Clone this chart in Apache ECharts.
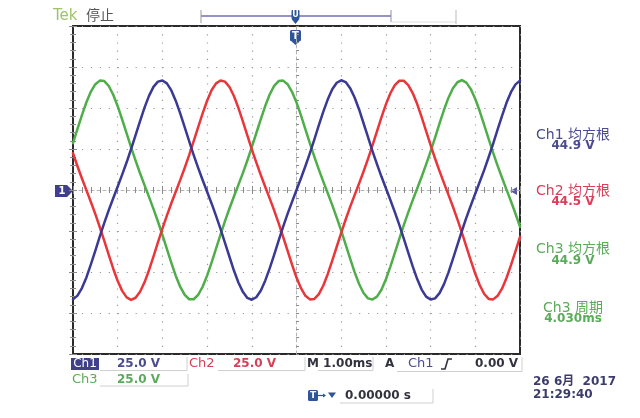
<!DOCTYPE html>
<html><head><meta charset="utf-8">
<script src="https://cdn.jsdelivr.net/npm/echarts@6/dist/echarts.min.js"></script>
<style>html,body{margin:0;padding:0;background:#fff}#c{width:640px;height:418px}</style>
</head><body><div id="c"></div>
<script>
// time axis (ms) – 10 divisions of 1.00 ms
const timeMs = [0,0.1,0.2,0.3,0.4,0.5,0.6,0.7,0.8,0.9,1,1.1,1.2,1.3,1.4,1.5,1.6,1.7,1.8,1.9,2,2.1,2.2,2.3,2.4,2.5,2.6,2.7,2.8,2.9,3,3.1,3.2,3.3,3.4,3.5,3.6,3.7,3.8,3.9,4,4.1,4.2,4.3,4.4,4.5,4.6,4.7,4.8,4.9,5,5.1,5.2,5.3,5.4,5.5,5.6,5.7,5.8,5.9,6,6.1,6.2,6.3,6.4,6.5,6.6,6.7,6.8,6.9,7,7.1,7.2,7.3,7.4,7.5,7.6,7.7,7.8,7.9,8,8.1,8.2,8.3,8.4,8.5,8.6,8.7,8.8,8.9,9,9.1,9.2,9.3,9.4,9.5,9.6,9.7,9.8,9.9,10];
// Ch1 (blue) volts
const ch1Volts = [-66.7,-64.4,-59.8,-53.3,-45.4,-36.9,-28.3,-20.1,-12.3,-5.0,2.1,9.4,16.9,25.0,33.5,42.0,50.2,57.4,62.9,66.1,66.8,65.0,60.7,54.3,46.6,38.2,29.6,21.3,13.5,6.1,-1.1,-8.2,-15.8,-23.7,-32.2,-40.7,-49.1,-56.4,-62.1,-65.8,-66.9,-65.4,-61.4,-55.3,-47.8,-39.5,-30.9,-22.5,-14.6,-7.2,0,7.2,14.6,22.5,30.9,39.5,47.8,55.3,61.4,65.4,66.9,65.8,62.1,56.4,49.1,40.7,32.2,23.7,15.8,8.2,1.1,-6.1,-13.5,-21.3,-29.6,-38.2,-46.6,-54.3,-60.7,-65.0,-66.8,-66.1,-62.9,-57.4,-50.2,-42.0,-33.5,-25.0,-16.9,-9.4,-2.1,5.0,12.3,20.1,28.3,36.9,45.4,53.3,59.8,64.4,66.7];
// Ch2 (red) volts
const ch2Volts = [22.4,14.5,7.0,-0.1,-7.3,-14.7,-22.7,-31.0,-39.6,-48.0,-55.5,-61.5,-65.5,-67.0,-65.7,-62.0,-56.3,-48.9,-40.6,-32.0,-23.6,-15.6,-8.1,-0.9,6.2,13.6,21.4,29.8,38.3,46.7,54.4,60.8,65.0,66.8,66.1,62.8,57.3,50.1,41.9,33.3,24.8,16.8,9.2,2.0,-5.1,-12.4,-20.2,-28.5,-37.0,-45.5,-53.4,-59.9,-64.5,-66.7,-66.4,-63.5,-58.2,-51.2,-43.1,-34.6,-26.1,-18.0,-10.3,-3.1,4.0,11.3,19.0,27.2,35.8,44.3,52.2,59.0,64.0,66.6,66.6,64.0,59.1,52.4,44.4,35.9,27.4,19.2,11.5,4.2,-3.0,-10.2,-17.9,-26.0,-34.5,-43.0,-51.1,-58.1,-63.4,-66.4,-66.7,-64.5,-60.0,-53.5,-45.7,-37.2,-28.6];
// Ch3 (green) volts
const ch3Volts = [28.6,37.2,45.7,53.5,60.0,64.5,66.7,66.4,63.4,58.1,51.1,43.0,34.5,26.0,17.9,10.2,3.0,-4.2,-11.5,-19.2,-27.4,-35.9,-44.4,-52.4,-59.1,-64.0,-66.6,-66.6,-64.0,-59.0,-52.2,-44.3,-35.8,-27.2,-19.0,-11.3,-4.0,3.1,10.3,18.0,26.1,34.6,43.1,51.2,58.2,63.5,66.4,66.7,64.5,59.9,53.4,45.5,37.0,28.5,20.2,12.4,5.1,-2.0,-9.2,-16.8,-24.8,-33.3,-41.9,-50.1,-57.3,-62.8,-66.1,-66.8,-65.0,-60.8,-54.4,-46.7,-38.3,-29.8,-21.4,-13.6,-6.2,0.9,8.1,15.6,23.6,32.0,40.6,48.9,56.3,62.0,65.7,67.0,65.5,61.5,55.5,48.0,39.6,31.0,22.7,14.7,7.3,0.1,-7.0,-14.5,-22.4];
// axis settings (scope divisions)
const timeMin = 0, timeMax = 10, timePerDiv = 1;
const voltMin = -100, voltMax = 100, voltPerDiv = 25;

const FONT = '"DejaVu Sans","Noto Sans CJK SC",sans-serif';
const C1 = '#4b4b8f', C2 = '#d8405a', C3 = '#5aab5a', DARK = '#333340', TBLUE = '#2e5597';

function txt(text, x, y, fill, size, weight, align) {
  return {type:'text', silent:true, style:{text:text, x:x, y:y, fill:fill,
    font:(weight||'normal')+' '+(size||13)+'px '+FONT,
    textAlign:align||'left', textVerticalAlign:'middle', verticalAlign:'middle'}};
}
function pline(points, stroke, w) {
  return {type:'polyline', silent:true, shape:{points:points}, style:{stroke:stroke, lineWidth:w||1, fill:null}};
}
function poly(points, fill) {
  return {type:'polygon', silent:true, shape:{points:points}, style:{fill:fill}};
}

const tickStyle = {color:'#8a8a8a', width:1};
function frameAxis(pos, withSplit, isX) {
  return {
    type:'value', gridIndex:0, position:pos,
    min: isX ? timeMin : voltMin, max: isX ? timeMax : voltMax,
    interval: isX ? timePerDiv : voltPerDiv,
    axisLine:{show:false},
    axisTick:{show:true, inside:true, length:4, lineStyle:tickStyle},
    minorTick:{show:true, splitNumber:5, length:3, lineStyle:tickStyle},
    axisLabel:{show:false},
    splitLine:{show:withSplit, lineStyle:{color:'#9a9a9a', width:1.2, type: isX ? [1.2,7.0] : [1.2,7.74]}},
    minorSplitLine:{show:false}
  };
}
function centerAxis(isX, inside, showLine) {
  return {
    type:'value', gridIndex:1,
    min: isX ? -5 : -4, max: isX ? 5 : 4, interval:1,
    axisLine:{show:showLine, onZero:true, lineStyle:{color:'#b5b5b5', width:1, type:[3,3]}},
    axisTick:{show:true, inside:inside, length:2.5, lineStyle:tickStyle},
    minorTick:{show:true, splitNumber:5, length:2.5, lineStyle:tickStyle},
    axisLabel:{show:false}, splitLine:{show:false}
  };
}

const chart = echarts.init(document.getElementById('c'), null, {renderer:'canvas'});
const gridBox = {left:73, top:26, width:447, height:328};
const option = {
  animation:false,
  backgroundColor:'#ffffff',
  grid:[
    Object.assign({show:true, borderColor:'#2a2a2a', borderWidth:2, backgroundColor:'#ffffff'}, gridBox),
    Object.assign({show:false}, gridBox)
  ],
  xAxis:[
    frameAxis('bottom',true,true),
    frameAxis('top',false,true),
    centerAxis(true,true,true),
    centerAxis(true,false,false)
  ],
  yAxis:[
    frameAxis('left',true,false),
    frameAxis('right',false,false),
    centerAxis(false,true,true),
    centerAxis(false,false,false)
  ],
  series:[
    {name:'Ch3', type:'line', xAxisIndex:0, yAxisIndex:0, showSymbol:false, smooth:false,
      data: timeMs.map((t,i)=>[t, ch3Volts[i]]), lineStyle:{color:'#4fae4a', width:2.5, join:'round', cap:'round'}, z:3},
    {name:'Ch2', type:'line', xAxisIndex:0, yAxisIndex:0, showSymbol:false, smooth:false,
      data: timeMs.map((t,i)=>[t, ch2Volts[i]]), lineStyle:{color:'#e8363b', width:2.5, join:'round', cap:'round'}, z:4},
    {name:'Ch1', type:'line', xAxisIndex:0, yAxisIndex:0, showSymbol:false, smooth:false,
      data: timeMs.map((t,i)=>[t, ch1Volts[i]]), lineStyle:{color:'#3a3994', width:2.5, join:'round', cap:'round'}, z:5}
  ],
  graphic:[
    // header
    txt('Tek', 53, 16, '#9cc46a', 15, 'normal'),
    txt('停止', 86, 16, '#555555', 14, 'normal'),
    pline([[201,16],[391,16]], '#6f6fb2', 1.5),
    pline([[201,10],[201,23]], '#999999', 1),
    pline([[391,10],[391,22]], '#8a8ab8', 1),
    pline([[391,22],[456,22]], '#dddddd', 1),
    pline([[456,10],[456,24]], '#bbbbbb', 1),
    {type:'rect', silent:true, shape:{x:291.5,y:10,width:8,height:9,r:1}, style:{fill:TBLUE}},
    poly([[291.5,19],[299.5,19],[295.5,24]], TBLUE),
    txt('U', 295.5, 14.5, '#ffffff', 8, 'bold', 'center'),
    {type:'rect', silent:true, shape:{x:290,y:30,width:11,height:11,r:1.5}, style:{fill:TBLUE}},
    poly([[290,40],[301,40],[295.5,45]], TBLUE),
    txt('T', 295.5, 36, '#ffffff', 10, 'bold', 'center'),
    // channel 1 ground marker & trigger level marker
    poly([[55,185],[67,185],[73,191],[67,197],[55,197]], '#3f3f8a'),
    txt('1', 62, 191, '#ffffff', 10, 'bold', 'center'),
    poly([[510,191],[517,187],[517,195]], '#5a5aa0'),
    // right side measurements
    txt('Ch1 均方根', 573, 135, C1, 14, 'normal', 'center'),
    txt('44.9 V', 573, 146, C1, 12, 'bold', 'center'),
    txt('Ch2 均方根', 573, 191, C2, 14, 'normal', 'center'),
    txt('44.5 V', 573, 202, C2, 12, 'bold', 'center'),
    txt('Ch3 均方根', 573, 249, C3, 14, 'normal', 'center'),
    txt('44.9 V', 573, 261, C3, 12, 'bold', 'center'),
    txt('Ch3 周期', 573, 308, C3, 14, 'normal', 'center'),
    txt('4.030ms', 573, 319, C3, 12, 'bold', 'center'),
    // bottom readouts row 1
    {type:'rect', silent:true, shape:{x:71,y:358,width:28,height:12}, style:{fill:'#3f3f8a'}},
    txt('Ch1', 85, 364, '#ffffff', 12, 'normal', 'center'),
    txt('25.0 V', 117, 364, C1, 12, 'bold'),
    pline([[100,370.5],[187,370.5],[187,357]], '#cfcfcf', 1),
    txt('Ch2', 189, 364, C2, 13, 'normal'),
    txt('25.0 V', 233, 364, C2, 12, 'bold'),
    pline([[218,370.5],[305,370.5],[305,357]], '#cfcfcf', 1),
    txt('M 1.00ms', 307, 364, DARK, 12, 'bold'),
    pline([[318,370.5],[373,370.5],[373,357]], '#cfcfcf', 1),
    txt('A', 385, 364, DARK, 12, 'bold'),
    txt('Ch1', 408, 364, C1, 13, 'normal'),
    pline([[441,369],[445,369],[448,359],[452,359]], DARK, 1.6),
    txt('0.00 V', 475, 364, DARK, 12, 'bold'),
    pline([[397,371.5],[522,371.5],[522,357]], '#cfcfcf', 1),
    // row 2
    txt('Ch3', 72, 380, C3, 13, 'normal'),
    txt('25.0 V', 117, 380, C3, 12, 'bold'),
    pline([[100,386],[188,386],[188,374]], '#cfcfcf', 1),
    // trigger position
    {type:'rect', silent:true, shape:{x:308,y:390,width:10,height:11,r:1.5}, style:{fill:TBLUE}},
    txt('T', 313, 395.5, '#ffffff', 9, 'bold', 'center'),
    pline([[318,395.5],[325,395.5]], TBLUE, 1.2),
    poly([[323,393.5],[326,395.5],[323,397.5]], TBLUE),
    poly([[328,392.5],[336,392.5],[332,398]], TBLUE),
    txt('0.00000 s', 345, 396, DARK, 12, 'bold'),
    pline([[340,403],[433,403],[433,389]], '#cfcfcf', 1),
    // date / time
    txt('26 6月  2017', 533, 382, '#3c3c6c', 12, 'bold'),
    txt('21:29:40', 533, 395, '#3c3c6c', 12, 'bold')
  ]
};
chart.setOption(option);
</script>
</body></html>
